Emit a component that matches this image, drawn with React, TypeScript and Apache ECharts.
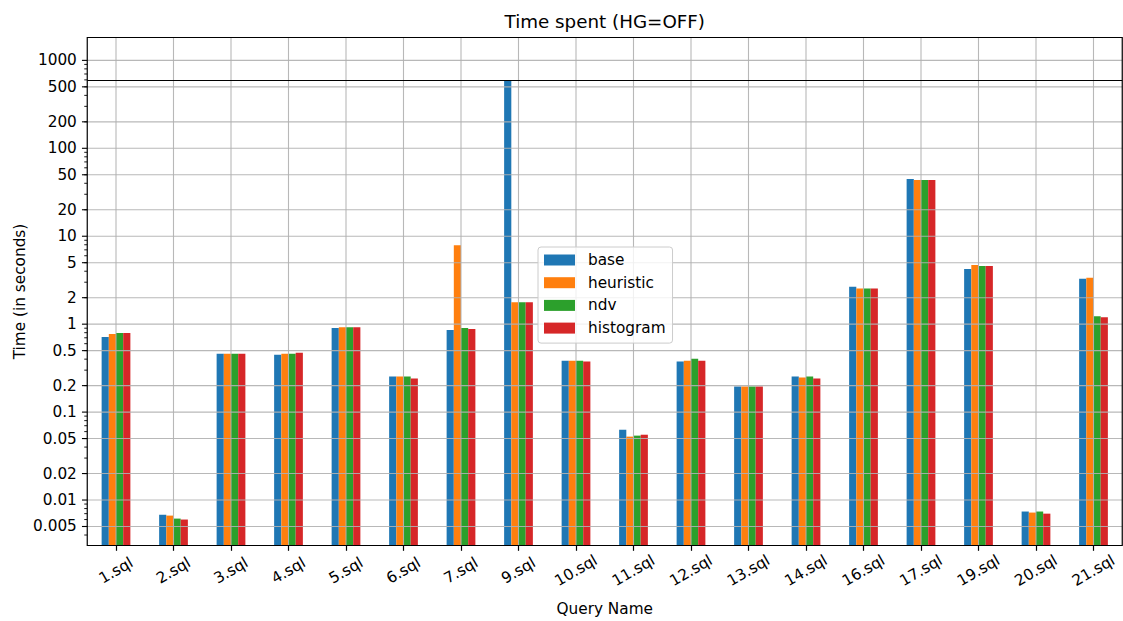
import React, { useEffect, useRef } from "react";
import * as echarts from "echarts";

// Query names on the x axis
const categories = [
  "1.sql", "2.sql", "3.sql", "4.sql", "5.sql", "6.sql", "7.sql", "9.sql", "10.sql",
  "11.sql", "12.sql", "13.sql", "14.sql", "16.sql", "17.sql", "19.sql", "20.sql", "21.sql",
];

// Time spent per query, in seconds
const base = [0.715, 0.0068, 0.461, 0.449, 0.902, 0.254, 0.856, 600, 0.384, 0.063, 0.375, 0.196, 0.254, 2.67, 44.7, 4.25, 0.0074, 3.28];
const heuristic = [0.772, 0.00665, 0.461, 0.461, 0.925, 0.254, 7.9, 1.77, 0.384, 0.0526, 0.384, 0.196, 0.248, 2.54, 43.5, 4.71, 0.0072, 3.37];
const ndv = [0.792, 0.00615, 0.461, 0.461, 0.925, 0.254, 0.902, 1.77, 0.384, 0.054, 0.405, 0.196, 0.254, 2.54, 43.5, 4.59, 0.0074, 1.23];
const histogram = [0.792, 0.006, 0.461, 0.473, 0.925, 0.241, 0.879, 1.77, 0.375, 0.0553, 0.384, 0.196, 0.241, 2.54, 43.5, 4.59, 0.007, 1.2];

// Labelled ticks on the logarithmic time axis
const yTicks = [0.005, 0.01, 0.02, 0.05, 0.1, 0.2, 0.5, 1, 2, 5, 10, 20, 50, 100, 200, 500, 1000];
// Timeout threshold drawn as a horizontal rule
const timeoutLimit = 600;

const Y_MIN = 0.00304;
const Y_MAX = 1820;

const FONT = "DejaVu Sans";
const COLORS = ["#1f77b4", "#ff7f0e", "#2ca02c", "#d62728"];

// Minor ticks at 2..9 x 10^k within the axis range
const minorTicks: number[] = [];
for (let k = -3; k <= 3; k++) {
  for (let m = 2; m <= 9; m++) {
    const v = m * Math.pow(10, k);
    if (v > Y_MIN && v < Y_MAX) minorTicks.push(v);
  }
}

// Overlay items: [x, y, kind]; kind 0 = major row, 1 = minor tick, 2 = category column, 3 = frame
const overlayData: number[][] = [
  ...yTicks.map((v) => [0, v, 0]),
  ...minorTicks.map((v) => [0, v, 1]),
  ...categories.map((_, i) => [i, 1, 2]),
  [0, 1, 3],
];

const GRID_COLOR = "rgba(176,176,176,0.9)";

function renderOverlay(params: any, api: any) {
  const cs = params.coordSys;
  const kind = api.value(2);
  if (kind === 0) {
    const v = api.value(1);
    const y = api.coord([0, v])[1];
    return {
      type: "group",
      children: [
        { type: "line", shape: { x1: cs.x, y1: y, x2: cs.x + cs.width, y2: y }, style: { stroke: GRID_COLOR, lineWidth: 1.1 } },
        { type: "line", shape: { x1: cs.x - 5.3, y1: y, x2: cs.x, y2: y }, style: { stroke: "#000", lineWidth: 1.1 } },
        {
          type: "text",
          x: cs.x - 10.4,
          y: y,
          style: { text: String(v), align: "right", verticalAlign: "middle", fill: "#000", fontSize: 15.3, fontFamily: FONT },
        },
      ],
    };
  }
  if (kind === 1) {
    const y = api.coord([0, api.value(1)])[1];
    return { type: "line", shape: { x1: cs.x - 3, y1: y, x2: cs.x, y2: y }, style: { stroke: "#000", lineWidth: 0.9 } };
  }
  if (kind === 2) {
    const x = api.coord([api.value(0), 1])[0];
    return { type: "line", shape: { x1: x, y1: cs.y, x2: x, y2: cs.y + cs.height }, style: { stroke: GRID_COLOR, lineWidth: 1.1 } };
  }
  return {
    type: "rect",
    shape: { x: cs.x, y: cs.y, width: cs.width, height: cs.height },
    style: { fill: "none", stroke: "#000", lineWidth: 1.2 },
  };
}

export default function App() {
  const ref = useRef<HTMLDivElement>(null);

  useEffect(() => {
    if (!ref.current) return;
    const chart = echarts.init(ref.current, undefined, { renderer: "svg" });

    const barSeries = [
      { name: "base", data: base },
      { name: "heuristic", data: heuristic },
      { name: "ndv", data: ndv },
      { name: "histogram", data: histogram },
    ].map((s, i) => ({
      name: s.name,
      type: "bar",
      data: s.data,
      barWidth: "12.5%",
      barGap: "0%",
      itemStyle: { color: COLORS[i] },
      z: 2,
      ...(i === 0
        ? {
            markLine: {
              silent: true,
              symbol: ["none", "none"],
              label: { show: false },
              lineStyle: { color: "#000", width: 1.2, type: "solid" },
              data: [{ yAxis: timeoutLimit }],
            },
          }
        : {}),
    }));

    chart.setOption({
      animation: false,
      backgroundColor: "#ffffff",
      textStyle: { fontFamily: FONT },
      title: {
        text: "Time spent (HG=OFF)",
        left: 604.75,
        top: 12.5,
        textAlign: "center",
        padding: 0,
        textStyle: { fontSize: 18.3, fontWeight: "normal", color: "#000", fontFamily: FONT },
      },
      legend: {
        data: ["base", "heuristic", "ndv", "histogram"],
        orient: "vertical",
        left: 538,
        top: 247,
        icon: "rect",
        itemWidth: 31,
        itemHeight: 11,
        itemGap: 6.7,
        padding: [5, 7, 7, 6],
        backgroundColor: "rgba(255,255,255,0.8)",
        borderColor: "#cccccc",
        borderWidth: 1,
        borderRadius: 3,
        selectedMode: false,
        textStyle: { fontSize: 15.3, color: "#000", fontFamily: FONT, lineHeight: 16, padding: [0, 0, 0, 8] },
        z: 10,
      },
      grid: { left: 87.25, top: 37.5, width: 1035, height: 514.8, containLabel: false },
      xAxis: {
        type: "category",
        data: categories,
        name: "Query Name",
        nameLocation: "middle",
        nameGap: 55.5,
        nameTextStyle: { fontSize: 15.3, color: "#000", fontFamily: FONT },
        axisLine: { show: false },
        axisTick: { show: true, alignWithLabel: true, length: 5.3, lineStyle: { color: "#000", width: 1.2 } },
        axisLabel: {
          interval: 0,
          rotate: 30,
          align: "center",
          verticalAlign: "middle",
          margin: 25,
          fontSize: 15.3,
          color: "#000",
          fontFamily: FONT,
        },
        splitLine: { show: false },
      },
      yAxis: {
        type: "log",
        logBase: 10,
        min: Y_MIN,
        max: Y_MAX,
        startValue: Y_MIN,
        name: "Time (in seconds)",
        nameLocation: "middle",
        nameRotate: 90,
        nameGap: 60,
        nameTextStyle: { fontSize: 15.3, color: "#000", fontFamily: FONT },
        axisLine: { show: false },
        axisTick: { show: false },
        axisLabel: { show: false },
        splitLine: { show: false },
      },
      series: [
        ...barSeries,
        {
          name: "overlay",
          type: "custom",
          data: overlayData,
          renderItem: renderOverlay,
          silent: true,
          clip: false,
          z: 3,
        },
      ],
    });

    return () => chart.dispose();
  }, []);

  return <div ref={ref} style={{ position: "fixed", left: 0, top: 0, width: 1123, height: 621 }} />;
}
